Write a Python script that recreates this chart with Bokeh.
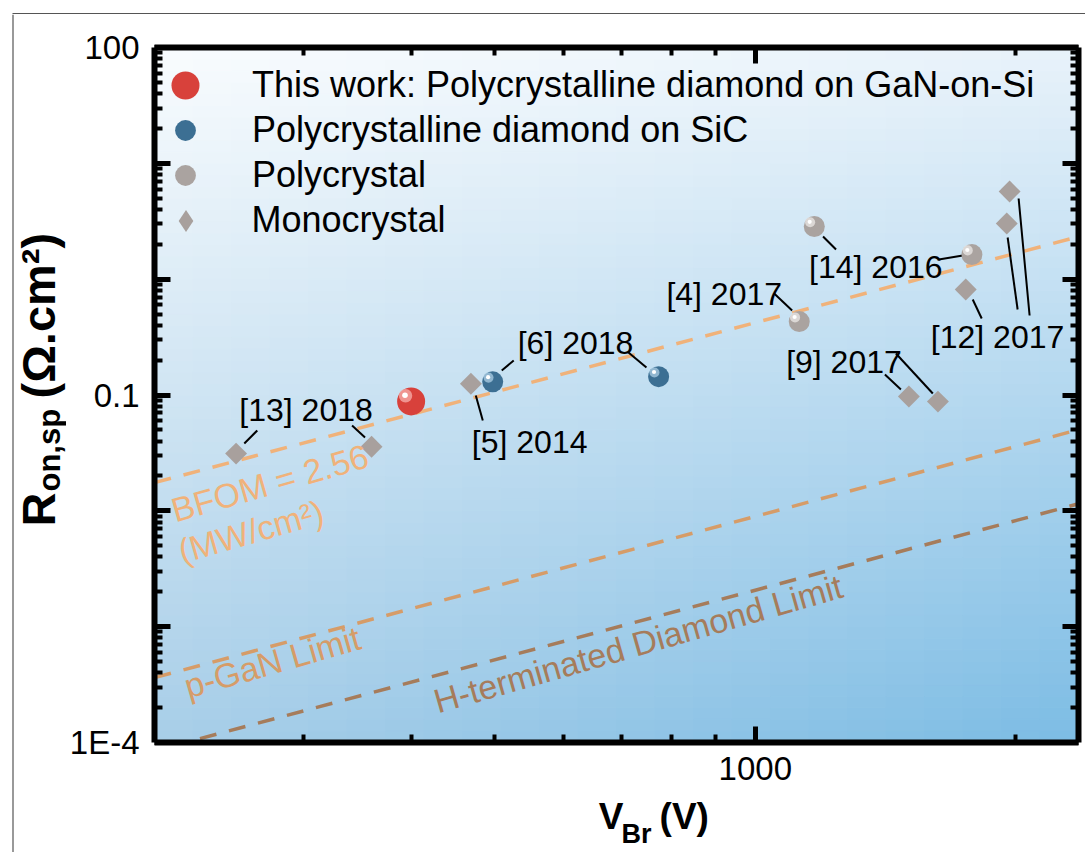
import numpy as np
from bokeh.plotting import figure
from bokeh.layouts import row, column
from bokeh.models import (FixedTicker, LogAxis, Label, Legend, LegendItem,
                          ColumnDataSource, Range1d)
from bokeh.core.properties import value
from bokeh.embed import file_html
from bokeh.resources import INLINE

# ---------------- data ----------------
this_work_v = [400]
this_work_r = [0.088]

sic_v = [497, 773]
sic_r = [0.130, 0.144]

poly_v = [1124, 1170, 1780]
poly_r = [0.43, 2.85, 1.63]

mono_v = [251, 360, 469, 1505, 1626, 1751, 1953, 1968]
mono_r = [0.0312, 0.0358, 0.125, 0.0969, 0.0877, 0.813, 3.02, 5.71]

bfom_v = [202, 2364]
bfom_r = [0.0175, 2.33]
pgan_v = [202, 2364]
pgan_r = [0.000363, 0.0502]
hterm_v = [228, 2364]
hterm_r = [0.000108, 0.0115]

legend_labels = ["This work: Polycrystalline diamond on GaN-on-Si",
                 "Polycrystalline diamond on SiC",
                 "Polycrystal",
                 "Monocrystal"]

ref_labels = ["[13] 2018", "[5] 2014", "[6] 2018", "[4] 2017",
              "[14] 2016", "[9] 2017", "[12] 2017"]

x_major_ticks = [1000]
x_minor_ticks = [200, 300, 400, 500, 600, 700, 800, 900, 2000]
y_major_ticks = [1e-4, 1e-3, 1e-2, 1e-1, 1, 10, 100]
y_minor_ticks = [k * 10.0 ** e for e in range(-4, 2) for k in range(2, 10)]
y_tick_labels = {1e-4: "1E-4", 1e-3: "", 1e-2: "", 1e-1: "0.1", 1: "", 10: "", 100: "100"}
x_tick_labels = {1000: "1000"}

# ---------------- layout / style ----------------
X_RANGE = (202, 2364)
Y_RANGE = (1e-4, 100)
FONT = "Liberation Sans"
TOTAL_W = 1085
TS = 14                      # top strip height
LW = 66                      # left title strip width
BH = 58                      # bottom title strip height
FX0, FX1, FY0, FY1 = 152, 1078, 47, 742   # plot frame in page pixels
MW = TOTAL_W - LW
ML, MR = FX0 - LW, TOTAL_W - FX1
MT = FY0 - TS
MB = 52
MH = FY1 - TS + MB
LX = np.log10(X_RANGE[1] / X_RANGE[0])
LY = np.log10(Y_RANGE[1] / Y_RANGE[0])
FW, FH = FX1 - FX0, FY1 - FY0
MID = 0.35                   # baseline -> text middle, in em


def pos(xp, yp):
    """page pixel position (annotation layout only) -> data coordinates"""
    fx = (xp - FX0) / FW
    fy = (FY1 - yp) / FH
    return float(X_RANGE[0] * 10 ** (fx * LX)), float(Y_RANGE[0] * 10 ** (fy * LY))


def shift(xs, ys, dx, dy):
    xs = np.asarray(xs, float); ys = np.asarray(ys, float)
    return list(xs * 10 ** (dx * LX / FW)), list(ys * 10 ** (-dy * LY / FH))


p = figure(width=MW, height=MH, x_axis_type="log", y_axis_type="log",
           x_range=X_RANGE, y_range=Y_RANGE, output_backend="svg",
           toolbar_location=None, min_border_left=ML, min_border_right=MR,
           min_border_top=MT, min_border_bottom=MB)
p.xgrid.visible = False
p.ygrid.visible = False
p.outline_line_color = None
p.border_fill_color = "white"
p.background_fill_color = "#d0e6f3"

# background gradient (decoration)
ncol, nrow = 24, 60
xe = np.geomspace(X_RANGE[0], X_RANGE[1], ncol + 1)
ye = np.geomspace(Y_RANGE[0], Y_RANGE[1], nrow + 1)
TL = np.array([249, 252, 254]); TR = np.array([232, 242, 250])
BL = np.array([168, 206, 232]); BR = np.array([124, 188, 228])
gl, gr, gb, gt, gc = [], [], [], [], []
for i in range(ncol):
    for j in range(nrow):
        u = (i + 0.5) / ncol
        v = (j + 0.5) / nrow
        c = (TL * (1 - u) + TR * u) * v + (BL * (1 - u) + BR * u) * (1 - v)
        gl.append(float(xe[i])); gr.append(float(xe[i + 1]))
        gb.append(float(ye[j])); gt.append(float(ye[j + 1]))
        gc.append("#%02x%02x%02x" % tuple(int(round(t)) for t in c))
p.quad(left=gl, right=gr, bottom=gb, top=gt, fill_color=gc, line_color=gc, line_width=1)

# limit lines
p.line(bfom_v, bfom_r, line_color="#f0b27a", line_width=3.5, line_dash="17 13")
p.line(pgan_v, pgan_r, line_color="#d69c68", line_width=3.5, line_dash="17 13")
p.line(hterm_v, hterm_r, line_color="#a67c5b", line_width=3.5, line_dash="17 13")

# leader lines (annotation layout, page pixels)
leaders = [(242, 443, 255, 430), (350, 425, 363, 437), (474, 395, 481, 420),
           (500, 370, 512, 360), (627, 352, 645, 367), (773, 293, 791, 310),
           (822, 236, 835, 249), (938, 259, 962, 255), (884, 374, 900, 389),
           (895, 353, 932, 393), (972, 299, 981, 318), (1007, 237, 1017, 309),
           (1018, 198, 1029, 315)]
sx0, sy0, sx1, sy1 = [], [], [], []
for a, b, c, d in leaders:
    x0, y0 = pos(a, b); x1, y1 = pos(c, d)
    sx0.append(x0); sy0.append(y0); sx1.append(x1); sy1.append(y1)
p.segment(sx0, sy0, sx1, sy1, line_color="black", line_width=2)


def sphere(xs, ys, size, base, mid):
    r = p.scatter(xs, ys, size=size, fill_color=base, line_color=None)
    hx, hy = shift(xs, ys, -0.2 * size, -0.2 * size)
    p.scatter(hx, hy, size=0.48 * size, fill_color=mid, line_color=None, fill_alpha=0.85)
    hx, hy = shift(xs, ys, -0.22 * size, -0.22 * size)
    p.scatter(hx, hy, size=0.2 * size, fill_color="white", line_color=None)
    return r


mono_src = ColumnDataSource(dict(x=mono_v, y=mono_r))
# narrow diamond (used for the legend swatch) hidden under the rotated squares
r_mono_leg = p.scatter("x", "y", source=mono_src, marker="diamond", size=16,
                       fill_color="#a8a09d", line_color=None)
r_mono = p.scatter("x", "y", source=mono_src, marker="square", angle=np.pi / 4,
                   size=15.5, fill_color="#a8a09d", line_color=None)
r_poly = sphere(poly_v, poly_r, 21, "#aaa3a0", "#e4e0de")
r_sic = sphere(sic_v, sic_r, 21, "#3c6f93", "#9fc3da")
r_this = sphere(this_work_v, this_work_r, 28, "#d8413b", "#f3a3a0")


# axes
def style_axis(ax, ticker, overrides, labels=True, standoff=16):
    ax.ticker = ticker
    ax.axis_line_width = 6
    ax.axis_line_color = "black"
    ax.major_tick_in = 16
    ax.major_tick_out = 0
    ax.minor_tick_in = 8
    ax.minor_tick_out = 0
    ax.major_tick_line_width = 5
    ax.minor_tick_line_width = 4
    ax.major_tick_line_color = "black"
    ax.minor_tick_line_color = "black"
    ax.major_label_overrides = overrides
    ax.major_label_text_font = FONT
    if labels:
        ax.major_label_text_font_size = "33px"
        ax.major_label_text_color = "black"
        ax.major_label_standoff = standoff
    else:
        ax.major_label_text_font_size = "2px"
        ax.major_label_text_alpha = 0
        ax.major_label_standoff = 0


style_axis(p.xaxis[0], FixedTicker(ticks=x_major_ticks, minor_ticks=x_minor_ticks),
           x_tick_labels, standoff=14)
style_axis(p.yaxis[0], FixedTicker(ticks=y_major_ticks, minor_ticks=y_minor_ticks),
           y_tick_labels, standoff=15)
top_ax = LogAxis()
right_ax = LogAxis()
style_axis(top_ax, FixedTicker(ticks=x_major_ticks, minor_ticks=x_minor_ticks),
           {t: " " for t in x_major_ticks}, labels=False)
style_axis(right_ax, FixedTicker(ticks=y_major_ticks, minor_ticks=y_minor_ticks),
           {t: " " for t in y_major_ticks}, labels=False)
p.add_layout(top_ax, "above")
p.add_layout(right_ax, "right")

# legends (one per row so each swatch keeps its own size)
rows_y = [85, 130, 175, 220]
leg_r = [r_this, r_sic, r_poly, r_mono_leg]
leg_g = [70, 52, 52, 55]
for lab, yc, rr, g in zip(legend_labels, rows_y, leg_r, leg_g):
    vx = 183 - FX0 - g / 2
    vy = FY1 - (yc + g / 2)
    leg = Legend(items=[LegendItem(label=lab, renderers=[rr])], location=(vx, vy),
                 glyph_width=g, glyph_height=g, label_standoff=int(67 - g / 2),
                 padding=0, margin=0, spacing=0, border_line_color=None,
                 background_fill_alpha=0, label_text_font=FONT,
                 label_text_font_size="36px", label_text_color="black",
                 label_height=g)
    p.add_layout(leg)

# reference labels (left edge, baseline in page pixels)
ref_pos = [(237, 421), (470, 453), (516, 354), (665, 305), (808, 278), (785, 373), (930, 348)]
for t, (a, b) in zip(ref_labels, ref_pos):
    x, y = pos(a, b - MID * 32)
    p.add_layout(Label(x=x, y=y, text=t, text_font=FONT, text_font_size="32px",
                       text_color="black", text_align="left", text_baseline="middle"))

# line labels (rotated along the dashed lines)
TH = np.radians(16)
line_texts = [("BFOM = 2.56", 173, 522, "#f0b27a"),
              ("(MW/cm²)", 180, 563, "#f0b27a"),
              ("p-GaN Limit", 186, 698, "#d69c68"),
              ("H-terminated Diamond Limit", 436, 713, "#a67c5b")]
for t, a, b, col in line_texts:
    f = 34
    x, y = pos(a - MID * f * np.sin(TH), b - MID * f * np.cos(TH))
    p.add_layout(Label(x=x, y=y, text=t, text_font=FONT, text_font_size="%dpx" % f,
                       text_color=col, angle=float(TH), text_align="left",
                       text_baseline="middle"))


# ---------------- title strips (separate small figures) ----------------
def blank(w, h):
    f = figure(width=w, height=h, x_range=Range1d(0, w), y_range=Range1d(0, h),
               output_backend="svg", toolbar_location=None, min_border=0,
               x_axis_location=None, y_axis_location=None)
    f.grid.visible = False
    f.outline_line_color = None
    f.background_fill_color = "white"
    f.border_fill_color = "white"
    return f


top = blank(TOTAL_W, TS)
top.line([12, TOTAL_W], [TS - 13, TS - 13], line_color="#555555", line_width=1.2)

left = blank(LW, MH + BH)
LH = MH + BH
left.line([12.5, 12.5], [0, LH], line_color="#555555", line_width=1.2)


def ytitle(text, xb, ystart, size):
    xm = xb - MID * size
    left.text(x=[xm], y=[LH - (ystart - TS)], text=[text], angle=np.pi / 2,
              text_font=value(FONT), text_font_size=value("%dpx" % size),
              text_font_style="bold", text_color="black", text_align="left",
              text_baseline="middle")


ytitle("R", 54, 526, 47)
ytitle("on,sp", 60, 491, 31)
ytitle("(Ω.cm²)", 54, 398, 47)

bottom = blank(MW, BH)
B0 = TS + MH


def xtitle(text, xp, yb, size):
    ym = yb - MID * size
    bottom.text(x=[xp - LW], y=[BH - (ym - B0)], text=[text],
                text_font=value(FONT), text_font_size=value("%dpx" % size),
                text_font_style="bold", text_color="black", text_align="left",
                text_baseline="middle")


xtitle("V", 556, 829, 37)
xtitle("Br", 581, 843, 27)
xtitle("(V)", 623, 829, 37)

layout = column(top, row(left, column(p, bottom)))
open("out.html", "w").write(file_html(layout, INLINE))
